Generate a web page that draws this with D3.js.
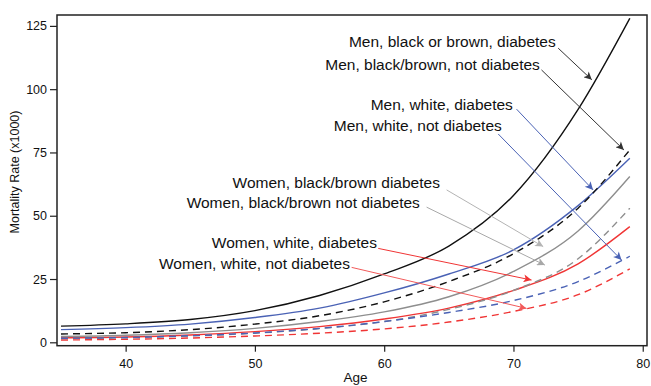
<!DOCTYPE html>
<html>
<head>
<meta charset="utf-8">
<script src="https://cdn.jsdelivr.net/npm/d3@7"></script>
<style>
  html, body { margin: 0; padding: 0; background: #fff; }
  svg { display: block; font-family: "Liberation Sans", Arial, Helvetica, sans-serif; }
</style>
</head>
<body>
<svg id="chart" width="651" height="386"></svg>
<script>
// ---------------- data ----------------
const ages = [35, 40, 45, 50, 55, 60, 65, 70, 75, 79];

const menBlackDiab    = [6.4, 7.3, 9.0, 12.5, 18.5, 27.0, 38.0, 58.0, 92.0, 128.0];
const menBlackNoDiab  = [3.3, 3.8, 5.0, 7.2, 10.5, 16.0, 24.0, 35.0, 53.0, 76.0];
const menWhiteDiab    = [5.0, 5.8, 7.2, 9.8, 13.5, 19.5, 27.0, 36.5, 54.0, 72.7];
const womBlackDiab    = [2.3, 2.8, 3.8, 5.5, 8.2, 12.0, 18.0, 28.0, 44.0, 65.5];
const womBlackNoDiab  = [1.5, 1.8, 2.5, 3.6, 5.4, 8.2, 13.0, 20.5, 33.0, 53.0];
const womWhiteDiab    = [1.8, 2.1, 2.9, 4.2, 6.2, 9.2, 13.5, 20.5, 31.0, 45.7];
const menWhiteNoDiab  = [1.6, 1.9, 2.6, 3.7, 5.5, 8.2, 11.8, 16.5, 24.0, 34.0];
const womWhiteNoDiab  = [0.9, 1.2, 1.7, 2.5, 3.6, 5.3, 8.0, 12.2, 18.8, 29.0];

const seriesLabels = [
  "Men, black or brown, diabetes",
  "Men, black/brown, not diabetes",
  "Men, white, diabetes",
  "Men, white, not diabetes",
  "Women, black/brown diabetes",
  "Women, black/brown not diabetes",
  "Women, white, diabetes",
  "Women, white, not diabetes"
];

const xTicks = [40, 50, 60, 70, 80];
const yTicks = [0, 25, 50, 75, 100, 125];

// label text anchor (age, rate), arrow start and arrow tip (age, rate)
const labelAt   = [[73.27,116.6],[72.04,107.4],[69.95,91.6],[69.10,83.3],[64.31,61.0],[62.76,53.2],[59.44,37.4],[57.35,28.8]];
const arrowFrom = [[73.46,116.2],[72.17,107.6],[70.24,92.1],[68.82,82.3],[64.83,60.2],[63.28,53.4],[59.54,37.1],[57.48,29.6]];
const arrowTo   = [[76.06,103.7],[78.54,76.0],[76.16,60.2],[78.36,32.5],[72.30,37.8],[72.43,30.5],[71.40,24.6],[71.01,13.4]];

// ---------------- layout / style ----------------
const plot = { left: 57, top: 15, right: 647, bottom: 345.7 };
const svg = d3.select("#chart");

const x = d3.scaleLinear().domain([34.69, 80.33]).range([plot.left, plot.right]);
const y = d3.scaleLinear().domain([-1.34, 129.3]).range([plot.bottom, plot.top]);

const BLUE = "#4a62b5", RED = "#f03535", GRAY = "#8e8e8e", BLACK = "#111";

const series = [
  { v: menBlackDiab,   color: BLACK, dash: null },
  { v: menBlackNoDiab, color: BLACK, dash: "7,5" },
  { v: menWhiteDiab,   color: BLUE,  dash: null },
  { v: menWhiteNoDiab, color: BLUE,  dash: "7,5" },
  { v: womBlackDiab,   color: GRAY,  dash: null },
  { v: womBlackNoDiab, color: GRAY,  dash: "7,5" },
  { v: womWhiteDiab,   color: RED,   dash: null },
  { v: womWhiteNoDiab, color: RED,   dash: "7,5" }
];
const arrowColors = ["#333", "#333", BLUE, BLUE, "#b4b4b4", "#a8a8a8", RED, "#f25a5a"];

// clip
svg.append("clipPath").attr("id", "clip").append("rect")
  .attr("x", plot.left).attr("y", plot.top)
  .attr("width", plot.right - plot.left).attr("height", plot.bottom - plot.top);

// lines
const line = d3.line().x((d, i) => x(ages[i])).y(d => y(d)).curve(d3.curveMonotoneX);
const gLines = svg.append("g").attr("clip-path", "url(#clip)");
series.slice().reverse().forEach(s => {
  gLines.append("path").datum(s.v)
    .attr("d", line)
    .attr("fill", "none")
    .attr("stroke", s.color)
    .attr("stroke-width", 1.4)
    .attr("stroke-dasharray", s.dash);
});

// axes
const yAxis = d3.axisLeft(y).tickValues(yTicks).tickSize(7).tickPadding(3).tickFormat(d3.format("d"));
const gy = svg.append("g").attr("transform", `translate(${plot.left},0)`).call(yAxis);
const xAxis = d3.axisBottom(x).tickValues(xTicks).tickSize(6).tickPadding(7).tickFormat(d3.format("d"));
const gx = svg.append("g").attr("transform", `translate(0,${plot.bottom})`).call(xAxis);
[gx, gy].forEach(g => {
  g.select(".domain").remove();
  g.selectAll(".tick line").attr("stroke", "#222").attr("stroke-width", 1.2);
  g.selectAll(".tick text").attr("fill", "#111").style("font-size", "12.5px")
    .style("font-family", '"Liberation Sans", Arial, sans-serif');
});

// frame
svg.append("rect")
  .attr("x", plot.left).attr("y", plot.top)
  .attr("width", plot.right - plot.left).attr("height", plot.bottom - plot.top)
  .attr("fill", "none").attr("stroke", "#222").attr("stroke-width", 1.5);

// axis titles
svg.append("text").attr("x", (plot.left + plot.right) / 2 + 3.5).attr("y", 382)
  .attr("text-anchor", "middle").style("font-size", "13.5px").attr("fill", "#111").text("Age");
svg.append("text").attr("transform", `translate(19,172) rotate(-90)`)
  .attr("text-anchor", "middle").style("font-size", "12.5px").attr("fill", "#111")
  .text("Mortality Rate (x1000)");

// arrowheads
const defs = svg.append("defs");
arrowColors.forEach((c, i) => {
  defs.append("marker").attr("id", "ah" + i)
    .attr("viewBox", "0 0 10 10").attr("refX", 10).attr("refY", 5)
    .attr("markerWidth", 10).attr("markerHeight", 8).attr("markerUnits", "userSpaceOnUse")
    .attr("orient", "auto")
    .append("path").attr("d", "M0,0 L10,5 L0,10 L2.5,5 Z").attr("fill", c);
});

// annotations
seriesLabels.forEach((t, i) => {
  svg.append("line")
    .attr("x1", x(arrowFrom[i][0])).attr("y1", y(arrowFrom[i][1]))
    .attr("x2", x(arrowTo[i][0])).attr("y2", y(arrowTo[i][1]))
    .attr("stroke", arrowColors[i]).attr("stroke-width", 1)
    .attr("marker-end", `url(#ah${i})`);
  svg.append("text")
    .attr("x", x(labelAt[i][0])).attr("y", y(labelAt[i][1]))
    .attr("text-anchor", "end").style("font-size", "15.5px").attr("fill", "#111")
    .text(t);
});
</script>
</body>
</html>
